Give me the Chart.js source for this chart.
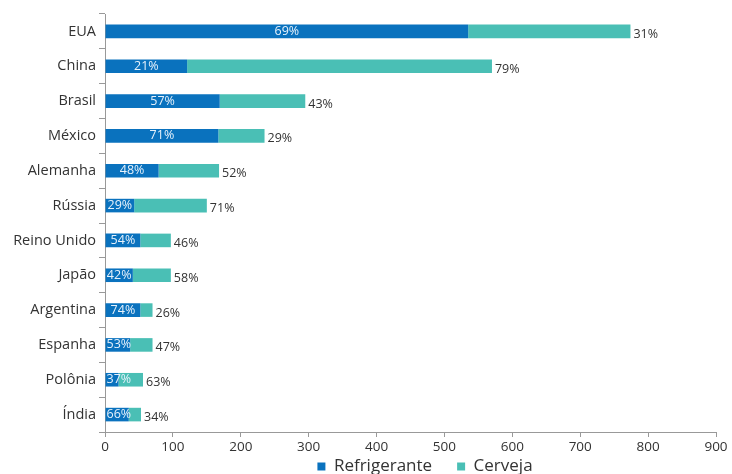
<!DOCTYPE html>
<html lang="pt">
<head>
  <meta charset="UTF-8">
  <title>Refrigerante e Cerveja</title>
  <script src="https://cdn.jsdelivr.net/npm/chart.js"></script>
  <style>
    html, body { margin: 0; padding: 0; background: #fff; }
    .wrap { width: 732px; height: 474px; }
  </style>
</head>
<body>
  <div class="wrap"><canvas id="chart"></canvas></div>

  <script>
    // data
    const countries = ['EUA', 'China', 'Brasil', 'México', 'Alemanha', 'Rússia',
      'Reino Unido', 'Japão', 'Argentina', 'Espanha', 'Polônia', 'Índia'];
    const refrigerante = [535, 121, 169, 167, 79, 43, 52, 41, 52, 37, 20, 35];
    const cerveja = [239, 449, 126, 68, 89, 107, 45, 56, 18, 33, 36, 18];
    const pctRefrigerante = ['69%', '21%', '57%', '71%', '48%', '29%', '54%', '42%', '74%', '53%', '37%', '66%'];
    const pctCerveja = ['31%', '79%', '43%', '29%', '52%', '71%', '46%', '58%', '26%', '47%', '63%', '34%'];
    const xTicks = [0, 100, 200, 300, 400, 500, 600, 700, 800, 900];

    const FONT = "'Open Sans', sans-serif";

    // percentage labels: inside the blue part, after the teal part
    const pctLabels = {
      id: 'pctLabels',
      afterDatasetsDraw(chart) {
        const ctx = chart.ctx;
        const m0 = chart.getDatasetMeta(0);
        const m1 = chart.getDatasetMeta(1);
        ctx.save();
        ctx.font = '12.5px ' + FONT;
        ctx.textBaseline = 'middle';
        m0.data.forEach((bar, i) => {
          ctx.fillStyle = '#e6f1fb';
          ctx.textAlign = 'center';
          let cx = (bar.x + bar.base) / 2;
          const w = ctx.measureText(pctRefrigerante[i]).width;
          if (cx - w / 2 < bar.base + 1) cx = bar.base + 1 + w / 2;
          ctx.fillText(pctRefrigerante[i], cx, bar.y);
          const b1 = m1.data[i];
          ctx.fillStyle = '#333';
          ctx.textAlign = 'left';
          ctx.fillText(pctCerveja[i], b1.x + 3, b1.y + 3);
        });
        ctx.restore();
      }
    };

    // legend: wide gap between items, placed right of centre like the original
    const legendPlace = {
      id: 'legendPlace',
      afterLayout(chart) {
        const lg = chart.legend;
        const pad = lg.options.labels.padding;
        lg.top = 458 - pad;
        lg.bottom = chart.height;
        lg.left += 67;
        lg.right += 67;
      }
    };

    new Chart(document.getElementById('chart'), {
      type: 'bar',
      data: {
        labels: countries,
        datasets: [{
          label: 'Refrigerante',
          data: refrigerante,
          backgroundColor: '#0a72be',
          barPercentage: 0.39,
          categoryPercentage: 1
        }, {
          label: 'Cerveja',
          data: cerveja,
          backgroundColor: '#4abfb5',
          barPercentage: 0.39,
          categoryPercentage: 1
        }]
      },
      options: {
        indexAxis: 'y',
        responsive: true,
        maintainAspectRatio: false,
        animation: false,
        layout: { padding: { top: 14, right: 16, left: 0, bottom: 0 } },
        plugins: {
          legend: {
            position: 'bottom',
            maxHeight: 22,
            labels: {
              font: { family: FONT, size: 17 },
              color: '#333',
              boxWidth: 8,
              boxHeight: 8,
              padding: 25
            }
          },
          tooltip: { enabled: false }
        },
        scales: {
          x: {
            stacked: true,
            min: 0,
            max: 900,
            afterBuildTicks: s => { s.ticks = xTicks.map(v => ({ value: v })); },
            afterFit: s => { s.height = 20; },
            border: { color: '#999' },
            grid: { drawOnChartArea: false, tickLength: 5, color: '#999' },
            ticks: { font: { family: FONT, size: 13.5 }, color: '#333', padding: 2 }
          },
          y: {
            stacked: true,
            afterFit: s => { s.width = 105; },
            border: { color: '#999' },
            grid: { drawOnChartArea: false, tickLength: 6, color: '#999', offset: true },
            ticks: { font: { family: FONT, size: 14.5 }, color: '#333', padding: 3 }
          }
        }
      },
      plugins: [pctLabels, legendPlace]
    });
  </script>
</body>
</html>
